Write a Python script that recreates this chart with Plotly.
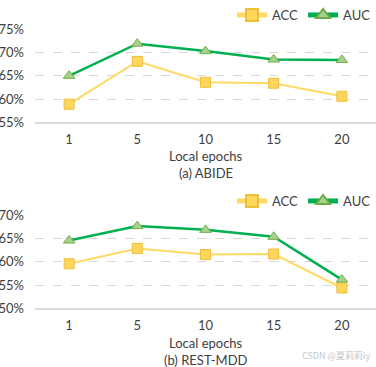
import plotly.graph_objects as go
from plotly.subplots import make_subplots

epochs = ["1", "5", "10", "15", "20"]
abide_acc = [58.9, 68.1, 63.6, 63.4, 60.6]
abide_auc = [65.0, 71.9, 70.3, 68.5, 68.4]
mdd_acc = [59.6, 62.9, 61.6, 61.7, 54.4]
mdd_auc = [64.6, 67.7, 66.9, 65.4, 56.2]
top_ticks = [55, 60, 65, 70, 75]
bottom_ticks = [50, 55, 60, 65, 70]

W, H = 376, 367
FONT = "Lato"
TXT = "#404040"
ACC_LINE = "#FFD966"
ACC_FILL = "#FFD65C"
ACC_EDGE = "#EDBE3A"
AUC_LINE = "#00B050"
AUC_FILL = "#A9D18E"
AUC_EDGE = "#70AD47"
GRID = "#D9D9D9"

fig = make_subplots(rows=2, cols=1)

def add_pair(acc, auc, row, legend):
    fig.add_trace(go.Scatter(x=epochs, y=acc, name="ACC", mode="lines+markers",
                             line=dict(color=ACC_LINE, width=2),
                             marker=dict(symbol="square", size=10, color=ACC_FILL,
                                         line=dict(color=ACC_EDGE, width=1)),
                             legend=legend), row=row, col=1)
    fig.add_trace(go.Scatter(x=epochs, y=auc, name="AUC", mode="lines+markers",
                             line=dict(color=AUC_LINE, width=2.5),
                             marker=dict(symbol="triangle-up", size=10, color=AUC_FILL,
                                         line=dict(color=AUC_EDGE, width=1)),
                             legend=legend), row=row, col=1)

add_pair(abide_acc, abide_auc, 1, "legend")
add_pair(mdd_acc, mdd_auc, 2, "legend2")

def py(px):
    return 1 - px / H

xaxis_common = dict(type="category", range=[-0.5, 4.5], showgrid=False, zeroline=False,
                    showline=True, linecolor=GRID, linewidth=1.5, ticks="",
                    tickfont=dict(family=FONT, size=13, color=TXT), automargin=False,
                    ticklabelstandoff=4)
yaxis_common = dict(showgrid=True, gridcolor=GRID, griddash="dash", gridwidth=1,
                    zeroline=False, showline=False, ticks="",
                    tickfont=dict(family=FONT, size=13, color=TXT), automargin=False,
                    ticklabelstandoff=10)

fig.update_xaxes(**xaxis_common)
fig.update_yaxes(**yaxis_common)
fig.update_yaxes(range=[55, 75], tickmode="array", tickvals=top_ticks,
                 ticktext=[f"{v}%" for v in top_ticks],
                 domain=[py(121.7), py(28.3)], row=1, col=1)
fig.update_yaxes(range=[50, 70], tickmode="array", tickvals=bottom_ticks,
                 ticktext=[f"{v}%" for v in bottom_ticks],
                 domain=[py(308.3), py(215)], row=2, col=1)

legend_common = dict(orientation="h", xanchor="right", x=1.0, yanchor="middle",
                     font=dict(family=FONT, size=13, color=TXT), bgcolor="rgba(0,0,0,0)",
                     itemwidth=30, tracegroupgap=0, itemsizing="constant")

annotations = []
for y_px, text in [(155, "Local epochs"), (172, "(a) ABIDE"),
                   (343, "Local epochs"), (360, "(b) REST-MDD")]:
    annotations.append(dict(x=0.5, y=py(y_px), xref="paper", yref="paper", text=text,
                            showarrow=False, yanchor="middle",
                            font=dict(family=FONT, size=13, color=TXT)))
annotations.append(dict(x=0.99, y=py(355), xref="paper", yref="paper",
                        text="CSDN @夏莉莉iy", showarrow=False, xanchor="right",
                        yanchor="middle", font=dict(family="Noto Sans CJK SC", size=9,
                                                    color="#C8C8C8")))

fig.update_layout(
    width=W, height=H,
    margin=dict(l=35, r=0, t=0, b=0),
    paper_bgcolor="white", plot_bgcolor="white",
    legend=dict(y=py(14), **legend_common),
    legend2=dict(y=py(201), **legend_common),
    annotations=annotations,
)

fig.write_html("out.html", config={"displayModeBar": False},
               post_script="document.body.style.margin='0';document.body.style.padding='0';")
